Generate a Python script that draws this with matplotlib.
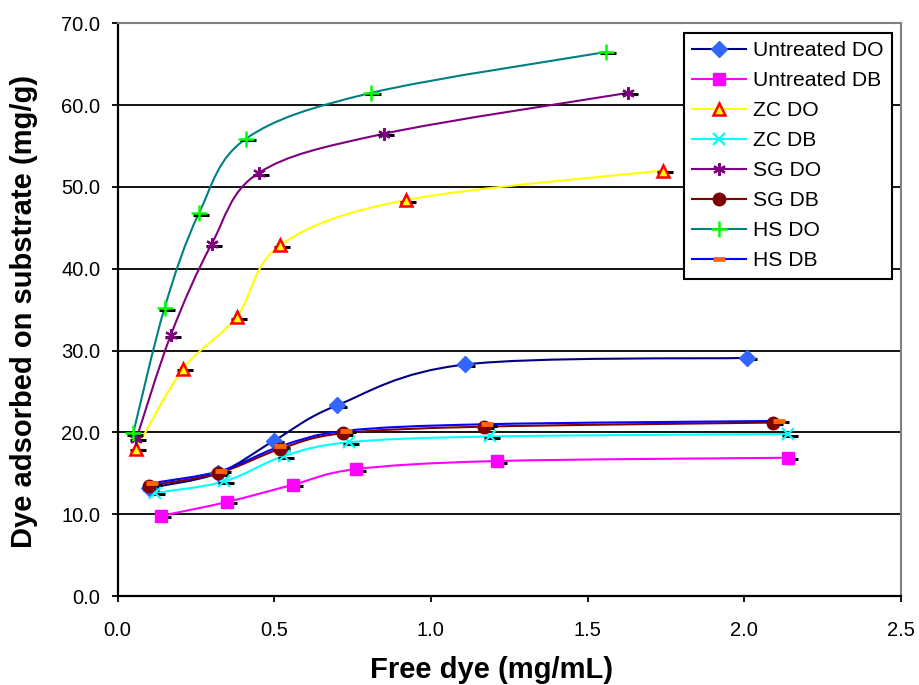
import numpy as np
import matplotlib
matplotlib.use("Agg")
import matplotlib.pyplot as plt
from matplotlib.path import Path
from matplotlib.patches import PathPatch
from matplotlib.lines import Line2D
import matplotlib.transforms as mtransforms

plt.rcParams['font.family'] = ['Liberation Sans', 'DejaVu Sans']

series_names = ["Untreated DO", "Untreated DB", "ZC DO", "ZC DB",
                "SG DO", "SG DB", "HS DO", "HS DB"]

untreated_do_x = [0.10, 0.32, 0.50, 0.70, 1.11, 2.01]
untreated_do_y = [13.2, 15.0, 19.0, 23.3, 28.3, 29.1]
untreated_db_x = [0.14, 0.35, 0.56, 0.76, 1.21, 2.14]
untreated_db_y = [9.8, 11.5, 13.6, 15.5, 16.5, 16.9]
zc_do_x = [0.06, 0.21, 0.38, 0.52, 0.92, 1.74]
zc_do_y = [18.0, 27.8, 34.1, 42.9, 48.4, 52.0]
zc_db_x = [0.12, 0.34, 0.53, 0.74, 1.19, 2.14]
zc_db_y = [12.6, 14.0, 17.1, 18.8, 19.5, 19.8]
sg_do_x = [0.06, 0.17, 0.30, 0.45, 0.85, 1.63]
sg_do_y = [19.2, 31.9, 43.0, 51.7, 56.5, 61.5]
sg_db_x = [0.10, 0.32, 0.52, 0.72, 1.17, 2.09]
sg_db_y = [13.5, 15.0, 18.0, 19.9, 20.7, 21.2]
hs_do_x = [0.05, 0.15, 0.26, 0.41, 0.81, 1.56]
hs_do_y = [19.9, 35.2, 46.8, 55.9, 61.5, 66.5]
hs_db_x = [0.11, 0.33, 0.52, 0.73, 1.18, 2.11]
hs_db_y = [13.8, 15.3, 18.3, 20.2, 21.0, 21.4]

xs = [untreated_do_x, untreated_db_x, zc_do_x, zc_db_x, sg_do_x, sg_db_x, hs_do_x, hs_db_x]
ys = [untreated_do_y, untreated_db_y, zc_do_y, zc_db_y, sg_do_y, sg_db_y, hs_do_y, hs_db_y]

line_colors = ["#000080", "#FF00FF", "#FFFF00", "#00FFFF", "#800080", "#800000", "#008080", "#0000FF"]
markers = ["D", "s", "^", "x", (6, 2, 0), "o", "+", "_"]
marker_face = ["#3366FF", "#FF00FF", "#FFFF00", "#00FFFF", "#800080", "#800000", "#00FF00", "#FF6600"]
marker_edge = ["#3366FF", "#FF00FF", "#FF0000", "#00FFFF", "#800080", "#800000", "#00FF00", "#FF6600"]
marker_size = [8, 8, 9, 8, 9, 9, 11, 8]
marker_ew = [1, 1, 1.8, 1.6, 1.6, 1, 1.8, 3.5]

x_ticks = [0.0, 0.5, 1.0, 1.5, 2.0, 2.5]
y_ticks = [0, 10, 20, 30, 40, 50, 60, 70]


def smooth_path(x, y):
    pts = np.column_stack([x, y]).astype(float)
    n = len(pts)
    verts = [pts[0]]
    codes = [Path.MOVETO]
    for i in range(n - 1):
        p0 = pts[i - 1] if i > 0 else pts[i]
        p1 = pts[i]
        p2 = pts[i + 1]
        p3 = pts[i + 2] if i + 2 < n else pts[i + 1]
        c1 = p1 + (p2 - p0) / 6.0
        c2 = p2 - (p3 - p1) / 6.0
        verts += [c1, c2, p2]
        codes += [Path.CURVE4] * 3
    return Path(verts, codes)


fig = plt.figure(figsize=(9.19, 6.85), dpi=100)
ax = fig.add_axes([0.1279, 0.1299, 0.8525, 0.8361])
ax.set_xlim(0, 2.5)
ax.set_ylim(0, 70)

for yv in y_ticks[1:-1]:
    ax.axhline(yv, color="black", lw=1.3, zorder=1)

shift = mtransforms.offset_copy(ax.transData, fig=fig, x=2, y=-1.5, units="dots")
handles = []
for i in range(8):
    patch = PathPatch(smooth_path(xs[i], ys[i]), facecolor="none",
                      edgecolor=line_colors[i], lw=1.5, zorder=2)
    ax.add_patch(patch)
    ax.plot(xs[i], ys[i], linestyle="none", marker="_", color="black",
            markersize=11, mew=2.2, transform=shift, zorder=2.5)
    ax.plot(xs[i], ys[i], linestyle="none", marker=markers[i],
            markerfacecolor=marker_face[i], markeredgecolor=marker_edge[i],
            markersize=marker_size[i], mew=marker_ew[i], zorder=3)
    handles.append(Line2D([0], [0], color=line_colors[i], lw=1.5,
                          marker=markers[i], markerfacecolor=marker_face[i],
                          markeredgecolor=marker_edge[i],
                          markersize=marker_size[i], mew=marker_ew[i]))

ax.set_xticks(x_ticks)
ax.set_xticklabels([f"{v:.1f}" for v in x_ticks])
ax.set_yticks(y_ticks)
ax.set_yticklabels([f"{v:.1f}" for v in y_ticks])
ax.tick_params(axis="both", labelsize=14.5, length=4.3, width=1.3, color="black", direction="out")
ax.tick_params(axis="x", pad=14)
ax.tick_params(axis="y", pad=8)

ax.spines["right"].set_color("#808080")
ax.spines["right"].set_linewidth(1.5)
ax.spines["top"].set_color("#808080")
ax.spines["top"].set_linewidth(1.5)
ax.spines["left"].set_linewidth(1.6)
ax.spines["bottom"].set_linewidth(1.6)

ax.set_xlabel("Free dye (mg/mL)", fontsize=21, fontweight="bold")
ax.set_ylabel("Dye adsorbed on substrate (mg/g)", fontsize=21, fontweight="bold")
ax.xaxis.set_label_coords(0.478, -0.104)
ax.yaxis.set_label_coords(-0.101, 0.497)

leg = fig.legend(handles, series_names, loc="upper left", bbox_to_anchor=(0.7443, 0.9518),
                 fontsize=15.2, frameon=True, fancybox=False, edgecolor="black",
                 framealpha=1, handlelength=2.55, labelspacing=0.52, borderpad=0.4,
                 handletextpad=0.33, borderaxespad=0)
leg.get_frame().set_linewidth(1.5)

fig.savefig("out.png", dpi=100)
